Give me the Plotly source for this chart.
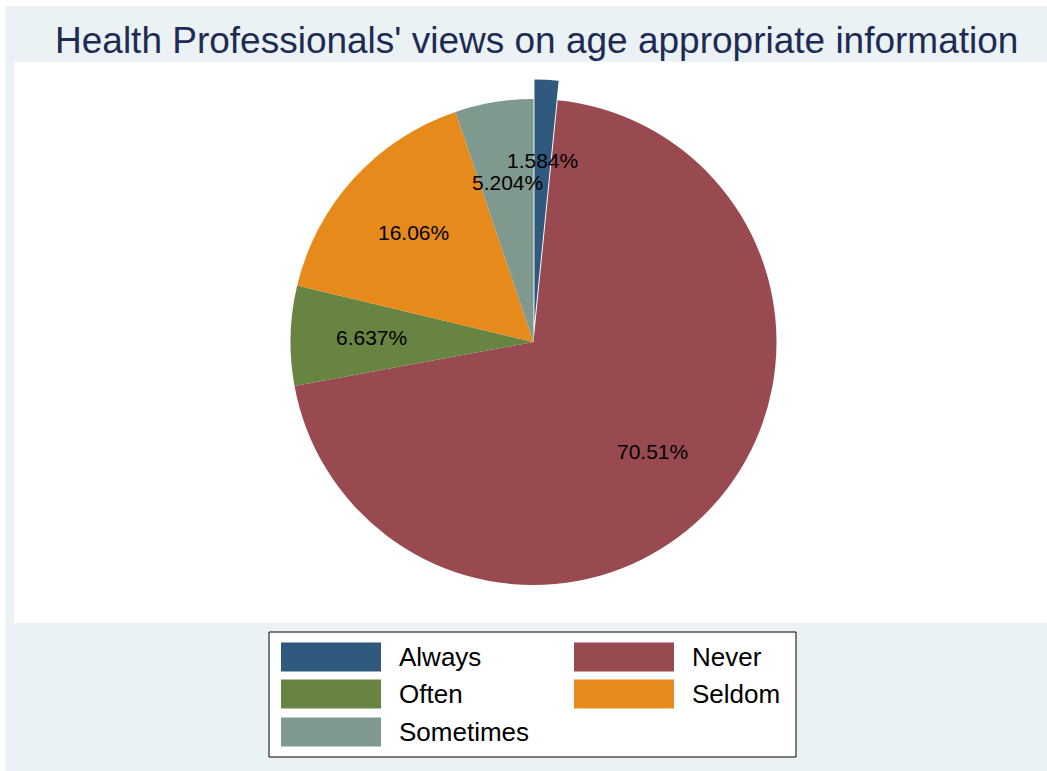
import math
import plotly.graph_objects as go

# Survey responses (percent of health professionals)
categories = ["Always", "Never", "Often", "Seldom", "Sometimes"]
percents = [1.584, 70.51, 6.637, 16.06, 5.204]
colors = ["#30597E", "#994A51", "#678442", "#E68B1B", "#7F998F"]
pulls = [0.08, 0, 0, 0, 0]

title_text = "Health Professionals' views on age appropriate information"

W, H = 1047, 771
FONT = "Liberation Sans, Arial, sans-serif"


def px(x):
    return x / W


def py(y):
    return 1 - y / H


# Pie placement (pixels): centre and the square box plotly fits the pie into
cx, cy = 533.5, 342.0
max_pull = max(pulls)
radius = 243.0
box = 2 * radius * (1 + max_pull)

fig = go.Figure()
fig.add_trace(go.Pie(
    labels=categories,
    values=percents,
    marker=dict(colors=colors, line=dict(width=0)),
    pull=pulls,
    sort=False,
    direction="clockwise",
    rotation=0,
    textinfo="none",
    hoverinfo="label+percent",
    showlegend=False,
    domain=dict(x=[px(cx - box / 2), px(cx + box / 2)],
                y=[py(cy + box / 2), py(cy - box / 2)]),
))

shapes = [
    # outer graph region
    dict(type="rect", xref="paper", yref="paper", layer="below",
         x0=px(5), x1=px(W), y0=py(H), y1=py(6),
         fillcolor="#EAF2F3", line=dict(width=0)),
    # plot region
    dict(type="rect", xref="paper", yref="paper", layer="below",
         x0=px(14), x1=px(W), y0=py(623), y1=py(62),
         fillcolor="white", line=dict(width=0)),
    # legend frame
    dict(type="rect", xref="paper", yref="paper",
         x0=px(269), x1=px(796), y0=py(757), y1=py(632),
         fillcolor="white", line=dict(color="black", width=1)),
]

annotations = [
    dict(text=title_text, xref="paper", yref="paper",
         x=px(536), y=py(40), xanchor="center", yanchor="middle",
         showarrow=False, font=dict(family=FONT, size=37, color="#1E2B55")),
]

# Slice labels at two thirds of the radius along each slice's mid-angle
total = sum(percents)
start = 0.0
for cat, v, p in zip(categories, percents, pulls):
    span = 360.0 * v / total
    mid = math.radians(start + span / 2)
    d = radius * (2 / 3 + p)
    lx = cx + d * math.sin(mid)
    ly = cy - d * math.cos(mid)
    annotations.append(dict(
        text=f"{v:.4g}%", xref="paper", yref="paper",
        x=px(lx), y=py(ly),
        xanchor="center", yanchor="middle", showarrow=False,
        font=dict(family=FONT, size=21, color="black"),
    ))
    start += span

# Legend: two columns of large swatches
col_x = [281, 574]
row_y = [657, 694, 732]
sw_w, sw_h = 100, 29
for i, (cat, col) in enumerate(zip(categories, colors)):
    r, c = divmod(i, 2)
    x0 = col_x[c]
    yc = row_y[r]
    shapes.append(dict(type="rect", xref="paper", yref="paper",
                       x0=px(x0), x1=px(x0 + sw_w),
                       y0=py(yc + sw_h / 2), y1=py(yc - sw_h / 2),
                       fillcolor=col, line=dict(width=0)))
    annotations.append(dict(
        text=cat, xref="paper", yref="paper",
        x=px(x0 + sw_w + 16), y=py(yc), xanchor="left", yanchor="middle",
        showarrow=False, font=dict(family=FONT, size=26, color="black"),
    ))

fig.update_layout(
    width=W, height=H,
    margin=dict(l=0, r=0, t=0, b=0),
    paper_bgcolor="white",
    plot_bgcolor="white",
    shapes=shapes,
    annotations=annotations,
)

fig.write_html("out.html")
